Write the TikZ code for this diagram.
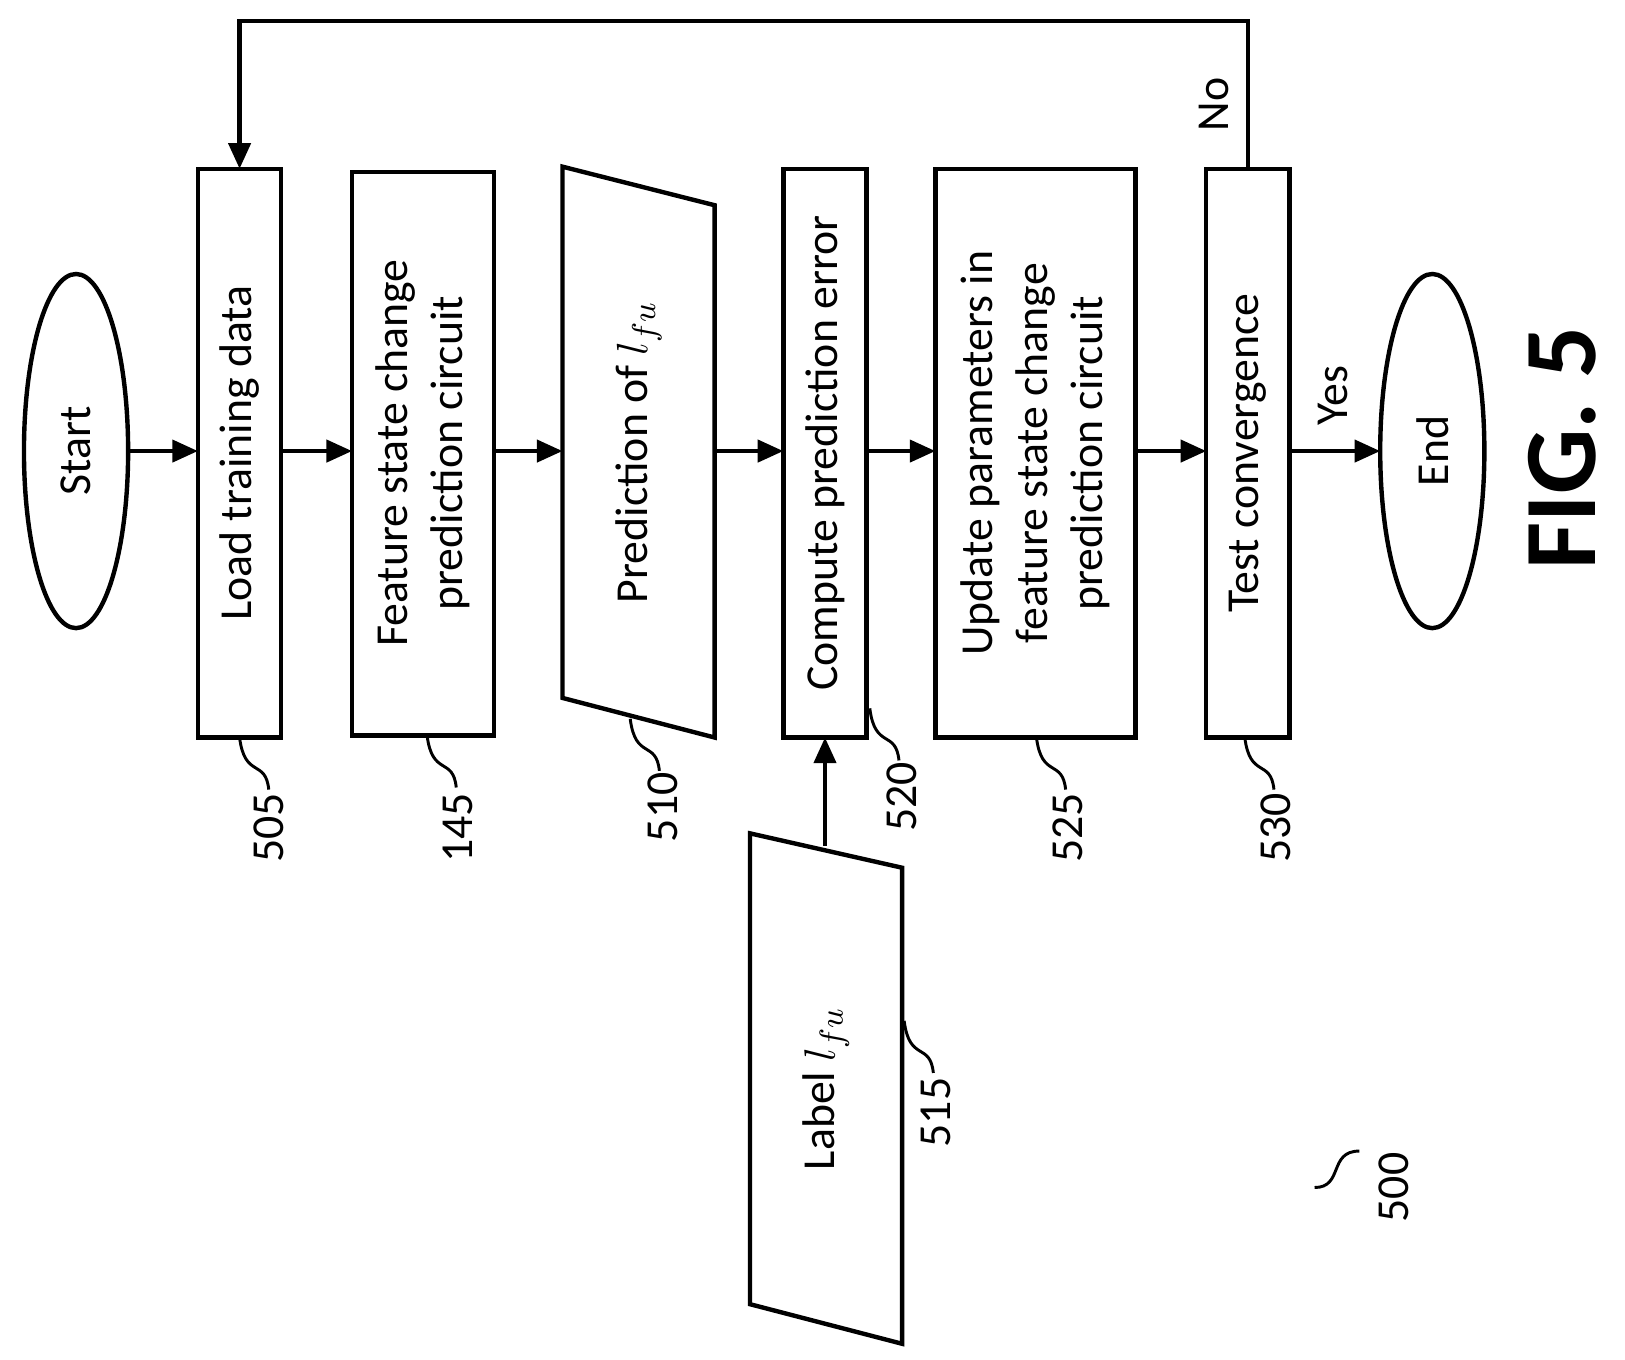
\documentclass[tikz,border=0pt]{standalone}
\usepackage{fontspec}
\setmainfont{Carlito}
\usetikzlibrary{arrows.meta}
\begin{document}
\begin{tikzpicture}[x=0.01cm,y=-0.01cm,
  box/.style={draw,line width=1.2pt},
  txt/.style={rotate=90,font=\fontsize{12.5}{15}\selectfont,align=center},
  num/.style={rotate=90,font=\fontsize{12.5}{15}\selectfont},
  arr/.style={line width=1.2pt,-{Triangle[length=7pt,width=6pt]}},
  sq/.style={line width=0.8pt}]
\useasboundingbox (0,0) rectangle (1560,1305);
\draw[box] (73,433) ellipse (50 and 170);
\node[txt] (start) at (73,433) {Start};
\draw[box] (1375,433) ellipse (50 and 170);
\node[txt] (end) at (1375,433) {End};
\draw[box] (190,162) rectangle (270,708); \node[txt] (b505) at (230,435) {Load training data};
\draw[box] (338,165) rectangle (474,706); \node[txt] (b145) at (406,435) {Feature state change\\prediction circuit};
\draw[box] (540,160) -- (686,197) -- (686,708) -- (540,670) -- cycle; \node[txt] (b510) at (613,434) {Prediction of $l_{fu}$};
\draw[box] (752,162) rectangle (832,708); \node[txt] (b520) at (792,435) {Compute prediction error};
\draw[box] (898,162) rectangle (1090,708); \node[txt] (b525) at (994,435) {Update parameters in\\feature state change\\prediction circuit};
\draw[box] (1158,162) rectangle (1238,708); \node[txt] (b530) at (1198,435) {Test convergence};
\draw[box] (720,800) -- (866,833) -- (866,1290) -- (720,1252) -- cycle; \node[txt] (b515) at (793,1045) {Label $l_{fu}$};
\coordinate (a0) at (123,433); \coordinate (a1) at (190,433);
\draw[arr] (a0) -- (a1);
\draw[arr] (270,433) -- (338,433);
\draw[arr] (474,433) -- (540,433);
\draw[arr] (686,433) -- (752,433);
\draw[arr] (832,433) -- (898,433);
\draw[arr] (1090,433) -- (1158,433);
\draw[arr] (1238,433) -- (1325,433);
\draw[arr] (792,812) -- (792,708);
\draw[arr] (1198,162) -- (1198,20) -- (230,20) -- (230,162);
\node[num] (no) at (1165,100) {No};
\node[num] (yes) at (1280,380) {Yes};
\foreach \x/\y/\t in {230/708/505,410/706/145,605/690/510,835/680/520,995/708/525,1195/708/530,868/980/515}{
  \draw[sq] (\x,\y) .. controls (\x+5,\y+40) and (\x+25,\y+20) .. (\x+28,\y+50);
}
\node[num] (n505) at (258,795) {505};
\node[num] (n145) at (440,795) {145};
\node[num] (n510) at (636,775) {510};
\node[num] (n520) at (866,765) {520};
\node[num] (n525) at (1025,795) {525};
\node[num] (n530) at (1225,795) {530};
\node[num] (n515) at (898,1068) {515};
\node[num] (n500) at (1338,1140) {500};
\draw[sq] (1262,1140) .. controls (1290,1140) and (1275,1105) .. (1305,1105);
\node[rotate=90,font=\bfseries\fontsize{28}{32}\selectfont] (fig) at (1500,430) {FIG. 5};
\end{tikzpicture}
\end{document}
